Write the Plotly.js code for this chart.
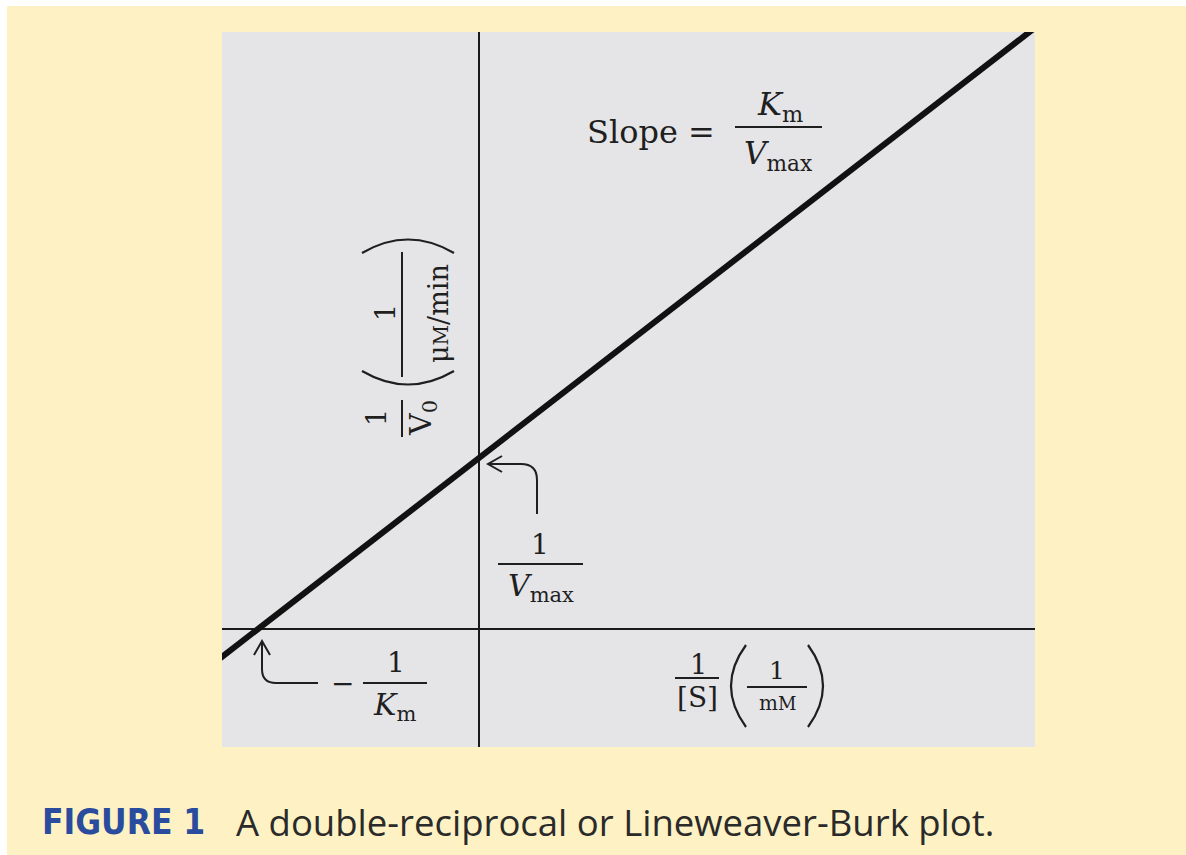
<!DOCTYPE html>
<html>
<head>
<meta charset="utf-8">
<script src="https://cdn.plot.ly/plotly-3.0.1.min.js"></script>
<style>
  html, body { margin: 0; padding: 0; background: #ffffff; width: 1186px; height: 855px; overflow: hidden; }
  #chart { position: absolute; left: 7px; top: 6px; width: 1179px; height: 849px; }
</style>
</head>
<body>
<div id="chart"></div>
<script>
// Lineweaver-Burk line: 1/[S] (1/mM) against 1/V0 (1/(µM/min)), end points
const invSubstrate = [-1.17, 2.51];
const invVelocity = [-0.17, 3.51];

// Caption and label texts
const figureTag = 'FIGURE 1';
const captionText = 'A double-reciprocal or Lineweaver-Burk plot.';

// Plot frame in page pixels (chart div sits at 7,6)
const OFF_X = 7, OFF_Y = 6;
const PL = 222, PT = 32, PW = 813, PH = 715;
const px = x => (x - PL) / PW;
const py = y => 1 - (y - PT) / PH;

const serif = 'DejaVu Serif, Liberation Serif, serif';
const ink = '#1f1f1f';

function label(text, x, y, size, opts) {
  return Object.assign({
    xref: 'paper', yref: 'paper', x: px(x), y: py(y),
    text: text, showarrow: false, xanchor: 'center', yanchor: 'middle',
    font: { family: serif, size: size, color: ink }
  }, opts || {});
}
function bar(x0, y0, x1, y1, w) {
  return { type: 'line', xref: 'paper', yref: 'paper',
    x0: px(x0), y0: py(y0), x1: px(x1), y1: py(y1),
    line: { color: ink, width: w || 2 } };
}
function path(d, w) {
  // d: list of [cmd, x, y, ...] in page pixels
  const s = d.map(seg => {
    const c = seg[0];
    const pts = [];
    for (let i = 1; i < seg.length; i += 2) pts.push(px(seg[i]) + ',' + py(seg[i + 1]));
    return c + pts.join(' ');
  }).join(' ');
  return { type: 'path', xref: 'paper', yref: 'paper', path: s,
    line: { color: ink, width: w || 2 } };
}

const trace = {
  x: invSubstrate, y: invVelocity, type: 'scatter', mode: 'lines',
  line: { color: '#111111', width: 6 }, hoverinfo: 'skip'
};

const annotations = [
  // slope formula
  label('Slope =', 585, 132, 32, { xanchor: 'left' }),
  label('<i>K</i><sub>m</sub>', 780, 106, 32),
  label('<i>V</i><sub>max</sub>', 778, 155, 31),
  // y-intercept
  label('1', 540, 544, 28),
  label('<i>V</i><sub>max</sub>', 541, 587, 30),
  // x-intercept
  label('\u2212', 342, 683, 28),
  label('1', 396, 662, 28),
  label('<i>K</i><sub>m</sub>', 394, 706, 30),
  // x-axis title
  label('1', 698, 664, 27),
  label('[S]', 697, 697, 28),
  label('1', 777, 670, 25),
  label('m<span style="font-size:18px">M</span>', 777, 703, 20),
  // y-axis title (rotated)
  label('1', 377, 418, 27, { textangle: -90 }),
  label('V<sub>0</sub>', 423, 418, 30, { textangle: -90 }),
  label('1', 385, 313, 27, { textangle: -90 }),
  label('\u03bc<span style="font-size:20px">M</span>/min', 438, 314, 27, { textangle: -90 }),
  // caption
  label('<b>' + figureTag + '</b>', 40, 822, 35,
    { xanchor: 'left', font: { family: 'Liberation Sans Narrow, DejaVu Sans Condensed, sans-serif', size: 35, color: '#2a4c9e' } }),
  label(captionText, 234, 822, 36.5,
    { xanchor: 'left', font: { family: 'Open Sans, Lato, sans-serif', size: 36.5, color: '#2a2a2a' } })
];

const shapes = [
  bar(735, 127, 822, 127),
  bar(498, 564, 583, 564),
  bar(363, 683, 427, 683),
  bar(675, 678, 719, 678),
  bar(747, 687, 807, 687),
  bar(402, 400, 402, 437),
  bar(402, 252, 402, 377),
  // arrow to y-intercept
  path([['M', 537, 514], ['L', 537, 480], ['Q', 537, 464, 521, 464], ['L', 489, 464]], 2),
  path([['M', 502, 456], ['L', 488, 464], ['L', 502, 472]], 2),
  // arrow to x-intercept
  path([['M', 318, 683], ['L', 276, 683], ['Q', 262, 683, 262, 669], ['L', 262, 643]], 2),
  path([['M', 254, 655], ['L', 262, 641], ['L', 270, 655]], 2),
  // parentheses of the x-axis title
  path([['M', 746, 645], ['Q', 716, 686, 746, 727]], 2.2),
  path([['M', 808, 645], ['Q', 838, 686, 808, 727]], 2.2),
  // parentheses of the y-axis title
  path([['M', 362, 371], ['Q', 408, 398, 454, 371]], 2.2),
  path([['M', 362, 253], ['Q', 408, 226, 454, 253]], 2.2)
];

const layout = {
  width: 1179, height: 849,
  margin: { l: PL - OFF_X, t: PT - OFF_Y, r: 1179 - (PL - OFF_X) - PW, b: 849 - (PT - OFF_Y) - PH, pad: 0 },
  paper_bgcolor: '#fef2c4',
  plot_bgcolor: '#e5e5e7',
  showlegend: false,
  xaxis: {
    range: [-1.163, 2.516], showticklabels: false, ticks: '', showgrid: false,
    zeroline: true, zerolinecolor: '#1a1a1a', zerolinewidth: 2, showline: false, fixedrange: true
  },
  yaxis: {
    range: [-0.690, 3.491], showticklabels: false, ticks: '', showgrid: false,
    zeroline: true, zerolinecolor: '#1a1a1a', zerolinewidth: 2, showline: false, fixedrange: true
  },
  annotations: annotations,
  shapes: shapes
};

Plotly.newPlot('chart', [trace], layout, { displayModeBar: false, staticPlot: true });
</script>
</body>
</html>
